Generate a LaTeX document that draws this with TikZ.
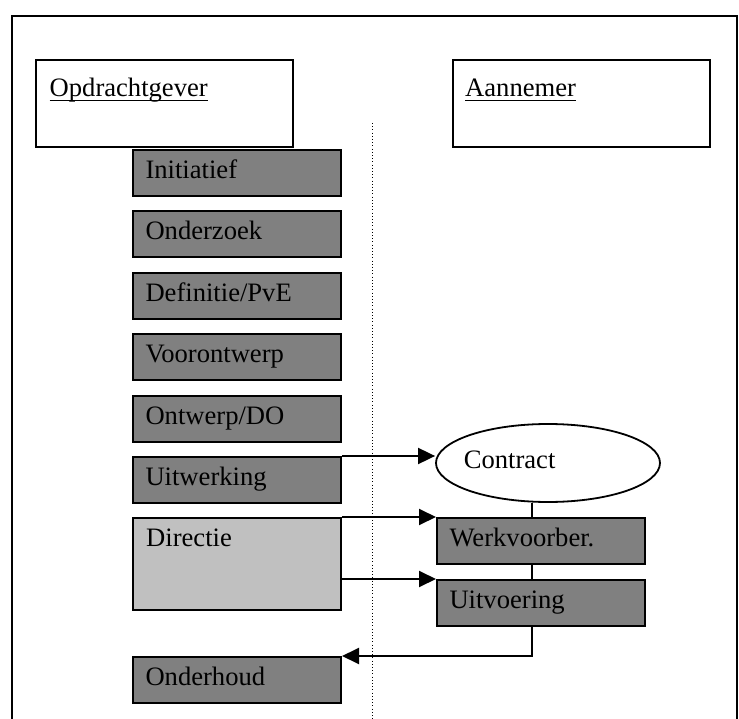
\documentclass[tikz,border=0pt]{standalone}
\usepackage{fontspec}
\setmainfont{Liberation Serif}
\usepackage{xcolor}
\usepackage{tikz}
\usetikzlibrary{positioning,arrows.meta,shapes.geometric}
\definecolor{gray500}{HTML}{808080}
\definecolor{gray300}{HTML}{C0C0C0}
\newcommand{\partyname}[1]{\setbox0\hbox{#1}\rlap{\rule[-4.5pt]{\wd0}{1.6pt}}\box0}
\tikzset{
  every node/.style={font=\fontsize{26.6}{30}\selectfont},
  party/.style={
    rectangle, draw=black, line width=2.2pt, fill=white,
    minimum width=257pt, minimum height=87pt,
    anchor=north west
  },
  phase/.style={
    rectangle, draw=black, line width=2pt, fill=gray500,
    minimum width=208pt, minimum height=46pt,
    text width=183pt, inner xsep=12.5pt, align=left,
    text height=15pt, text depth=4pt,
    anchor=north west
  },
  board/.style={
    phase, fill=gray300, minimum height=92pt
  },
  contract/.style={
    ellipse, draw=black, line width=1.8pt, fill=white,
    minimum width=224pt, minimum height=78pt, inner sep=0pt
  },
  arrow/.style={
    -{Triangle[length=17pt,width=16pt]},
    line width=1.9pt, draw=black
  },
  link/.style={line width=1.8pt, draw=black},
}

\begin{document}
\begin{tikzpicture}[x=1pt,y=-1pt]
  \useasboundingbox (0,0) rectangle (739,719);
  % frame, open at the bottom
  \draw[line width=2.2pt] (12,719) -- (12,16) -- (737,16) -- (737,719);
  \coordinate (divtop) at (372,123);
  \coordinate (divbot) at (372,719);
  \draw[line width=1pt, dash pattern=on 1pt off 2.2pt] (divtop) -- (divbot);
  % parties
  \node[party, label={[anchor=base west, inner sep=0pt, xshift=14.5pt, yshift=-38pt]north west:\partyname{Opdrachtgever}}] (client) at (35,59) {};
  \node[party, label={[anchor=base west, inner sep=0pt, xshift=13pt, yshift=-38pt]north west:\partyname{Aannemer}}] (builder) at (452,59) {};
  % phases of the client
  \node[phase] (initiatief) at (132,149) {Initiatief};
  \node[phase] (onderzoek) at (132,210) {Onderzoek};
  \node[phase] (definitie) at (132,272) {Definitie/PvE};
  \node[phase] (voorontwerp) at (132,333) {Voorontwerp};
  \node[phase] (ontwerp) at (132,395) {Ontwerp/DO};
  \node[phase] (uitwerking) at (132,456) {Uitwerking};
  \node[board, label={[anchor=base west, inner sep=0pt, xshift=14pt, yshift=-29pt]north west:Directie}] (directie) at (132,517) {};
  \node[phase] (onderhoud) at (132,656) {Onderhoud};
  % contractor side
  \node[contract, label={[anchor=base west, inner sep=0pt, xshift=28.5pt, yshift=-5pt]west:Contract}] (contract) at (548,463) {};
  \node[phase] (werkvoorber) at (436,517) {Werkvoorber.};
  \node[phase] (uitvoering) at (436,579) {Uitvoering};
  \coordinate (spine) at (532,0);
  \draw[link] (spine |- contract.south) -- (spine |- werkvoorber.north);
  \draw[link] (spine |- werkvoorber.south) -- (spine |- uitvoering.north);
  % arrows
  \draw[arrow] (uitwerking.north east) -- (contract.west |- uitwerking.north east);
  \draw[arrow] (directie.north east) -- (werkvoorber.north west);
  \draw[arrow] (directie.east |- uitvoering.north west) -- (uitvoering.north west);
  \draw[arrow] (spine |- uitvoering.south) |- (onderhoud.north east);
\end{tikzpicture}
\end{document}
